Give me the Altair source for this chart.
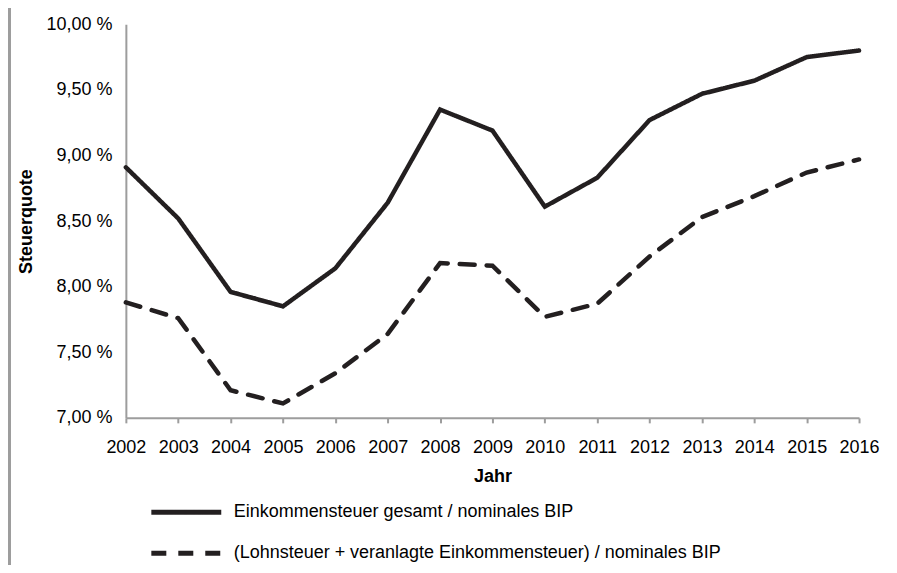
import altair as alt
import pandas as pd

years = list(range(2002, 2017))
series_names = [
    "Einkommensteuer gesamt / nominales BIP",
    "(Lohnsteuer + veranlagte Einkommensteuer) / nominales BIP",
]
gesamt = [8.91, 8.52, 7.96, 7.85, 8.14, 8.64, 9.35, 9.19, 8.61, 8.83, 9.27, 9.47, 9.57, 9.75, 9.80]
lohn = [7.88, 7.76, 7.21, 7.11, 7.34, 7.64, 8.18, 8.16, 7.77, 7.87, 8.23, 8.53, 8.69, 8.87, 8.97]
y_ticks = [7.0, 7.5, 8.0, 8.5, 9.0, 9.5, 10.0]

rows = []
for name, vals in zip(series_names, [gesamt, lohn]):
    for yr, v in zip(years, vals):
        rows.append({"Jahr": yr, "Quote": v, "Reihe": name})
df = pd.DataFrame(rows)

FONT = "Liberation Sans"
AXIS_GRAY = "#9d9d9d"
LINE = "#231f20"

lines = alt.Chart(df).mark_line(
    color=LINE, strokeWidth=4.5, strokeCap="round", strokeJoin="miter"
).encode(
    x=alt.X(
        "Jahr:Q",
        scale=alt.Scale(domain=[2002, 2016], nice=False, zero=False),
        axis=alt.Axis(
            values=years, format="d", title="Jahr", grid=False,
            labelOverlap=False, labelFlush=False, labelBound=False,
            domainColor=AXIS_GRAY, domainWidth=2, tickColor=AXIS_GRAY, tickWidth=2,
            tickSize=5, labelPadding=16, labelFontSize=18, labelColor="black",
            titleFontSize=18, titleFontWeight="bold", titlePadding=11, titleColor="black",
            labelFont=FONT, titleFont=FONT,
        ),
    ),
    y=alt.Y(
        "Quote:Q",
        scale=alt.Scale(domain=[7, 10], nice=False, zero=False),
        axis=alt.Axis(
            values=y_ticks, title="Steuerquote", grid=False, ticks=False,
            labelOverlap=False, labelBound=False, labelFlush=False,
            labelExpr="replace(format(datum.value, '.2f'), '.', ',') + ' %'",
            domainColor=AXIS_GRAY, domainWidth=2, labelPadding=14, labelFontSize=18,
            labelColor="black", titleFontSize=18, titleFontWeight="bold",
            titlePadding=10, titleColor="black", labelFont=FONT, titleFont=FONT,
        ),
    ),
    strokeDash=alt.StrokeDash(
        "Reihe:N",
        scale=alt.Scale(domain=series_names, range=[[1, 0], [15, 12]]),
        legend=alt.Legend(
            title=None, orient="none", legendX=48, legendY=476, direction="vertical",
            symbolType="M-3.5,0L3.5,0", symbolSize=400, symbolStrokeWidth=5,
            symbolStrokeColor=LINE, labelFontSize=18, labelFont=FONT, labelLimit=0,
            labelColor="black", labelOffset=35, rowPadding=18,
        ),
    ),
)

border = alt.Chart(df).mark_rule(color=AXIS_GRAY, strokeWidth=3).encode(
    x=alt.value(-117), y=alt.value(-18), y2=alt.value(541)
)

chart = alt.layer(border, lines).properties(
    width=734, height=394,
    autosize=alt.AutoSizeParams(type="none"),
    padding={"left": 118, "top": 16, "right": 30, "bottom": 150},
).configure_view(stroke=None)

chart.save("out.html", embed_options={"renderer": "svg", "actions": False})
